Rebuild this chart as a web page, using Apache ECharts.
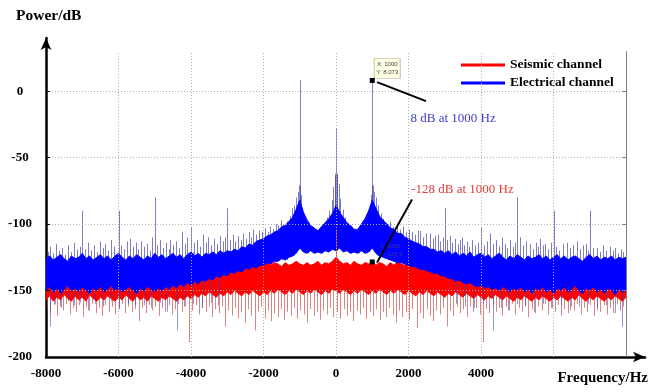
<!DOCTYPE html>
<html><head><meta charset="utf-8">
<script src="https://cdn.jsdelivr.net/npm/echarts@6/dist/echarts.min.js"></script>
<style>html,body{margin:0;padding:0;background:#fff}#c{width:650px;height:392px}</style>
</head><body><div id="c"></div>
<script>
// ---- data ----
const freq = [-8000,-7900,-7800,-7700,-7600,-7500,-7400,-7300,-7200,-7100,
-7000,-6900,-6800,-6700,-6600,-6500,-6400,-6300,-6200,-6100,
-6000,-5900,-5800,-5700,-5600,-5500,-5400,-5300,-5200,-5100,
-5000,-4900,-4800,-4700,-4600,-4500,-4400,-4300,-4200,-4100,
-4000,-3900,-3800,-3700,-3600,-3500,-3400,-3300,-3200,-3100,
-3000,-2900,-2800,-2700,-2600,-2500,-2400,-2300,-2200,-2100,
-2000,-1900,-1800,-1700,-1600,-1500,-1400,-1300,-1200,-1100,
-1000,-900,-800,-700,-600,-500,-400,-300,-200,-100,
0,
100,200,300,400,500,600,700,800,900,1000,
1100,1200,1300,1400,1500,1600,1700,1800,1900,2000,
2100,2200,2300,2400,2500,2600,2700,2800,2900,3000,
3100,3200,3300,3400,3500,3600,3700,3800,3900,4000,
4100,4200,4300,4400,4500,4600,4700,4800,4900,5000,
5100,5200,5300,5400,5500,5600,5700,5800,5900,6000,
6100,6200,6300,6400,6500,6600,6700,6800,6900,7000,
7100,7200,7300,7400,7500,7600,7700,7800,7900,8000];

// Electrical channel: dense band upper / lower edge (dB)
const blueTop = [-126,-124,-127,-125,-123,-126,-128,-124,-126,-125,
-122,-126,-124,-127,-125,-123,-126,-124,-127,-124,
-122,-125,-127,-124,-126,-123,-125,-127,-124,-126,
-122,-125,-123,-126,-124,-122,-125,-123,-126,-123,
-121,-124,-122,-125,-122,-123,-121,-123,-120,-122,
-120,-121,-119,-120,-117,-118,-115,-116,-113,-112,
-111,-109,-108,-106,-105,-102,-101,-98,-95,-89,
-82,-91,-97,-101,-103,-105,-102,-99,-96,-92,
-86,
-91,-95,-99,-101,-104,-104,-100,-96,-90,-82,
-88,-94,-97,-100,-103,-104,-107,-107,-110,-111,
-113,-114,-115,-117,-117,-119,-119,-121,-120,-122,
-120,-123,-121,-124,-122,-124,-121,-125,-123,-122,
-125,-123,-126,-124,-122,-125,-127,-124,-126,-123,
-125,-127,-124,-126,-125,-123,-126,-124,-127,-125,
-123,-126,-124,-127,-125,-124,-126,-128,-125,-123,
-126,-124,-127,-125,-126,-124,-127,-125,-126,-125];
const blueBot = [-150,-147,-151,-148,-152,-149,-146,-150,-148,-151,
-147,-150,-152,-148,-150,-147,-151,-149,-146,-150,
-148,-151,-149,-147,-150,-152,-148,-150,-147,-149,
-151,-148,-150,-147,-149,-146,-148,-145,-147,-144,
-146,-143,-145,-142,-143,-141,-142,-139,-140,-138,
-139,-136,-137,-135,-136,-133,-134,-132,-133,-131,
-131,-129,-130,-128,-128,-126,-127,-125,-124,-122,
-118,-121,-122,-120,-122,-121,-122,-120,-121,-119,
-120,
-118,-121,-120,-122,-121,-122,-120,-122,-121,-118,
-122,-124,-125,-126,-127,-128,-129,-129,-130,-131,
-132,-132,-134,-134,-135,-136,-137,-137,-139,-139,
-141,-141,-143,-142,-144,-145,-144,-146,-147,-146,
-148,-147,-149,-148,-150,-147,-149,-151,-148,-150,
-147,-151,-149,-152,-148,-150,-147,-151,-149,-152,
-148,-150,-147,-151,-149,-146,-150,-152,-148,-150,
-147,-151,-149,-152,-148,-150,-153,-149,-151,-150];

// Seismic channel: dense band upper / lower edge (dB)
const redTop = [-138,-136,-139,-137,-135,-138,-136,-139,-137,-135,
-138,-136,-139,-137,-135,-138,-136,-138,-135,-137,
-139,-136,-138,-135,-137,-139,-136,-138,-135,-137,
-136,-134,-137,-135,-133,-136,-134,-132,-135,-133,
-134,-131,-133,-131,-132,-130,-132,-130,-131,-129,
-131,-130,-132,-129,-131,-130,-128,-131,-129,-131,
-130,-128,-131,-129,-130,-132,-129,-131,-130,-128,
-130,-131,-129,-131,-130,-128,-131,-129,-130,-128,
-125,
-128,-130,-129,-131,-128,-130,-131,-129,-130,-128,
-131,-129,-130,-132,-129,-131,-128,-130,-131,-129,
-130,-132,-129,-131,-130,-128,-131,-130,-132,-129,
-131,-130,-132,-131,-133,-131,-134,-132,-134,-133,
-135,-134,-136,-134,-137,-135,-138,-136,-137,-135,
-138,-136,-139,-137,-135,-138,-136,-139,-137,-135,
-138,-136,-139,-137,-135,-138,-136,-138,-135,-137,
-139,-136,-138,-135,-137,-139,-136,-138,-137,-136];
const redBot = [-157,-154,-158,-155,-157,-153,-156,-158,-154,-157,
-155,-158,-153,-156,-158,-155,-157,-154,-156,-158,
-155,-157,-153,-156,-158,-154,-157,-155,-158,-154,
-156,-158,-155,-157,-154,-156,-158,-155,-157,-154,
-156,-153,-155,-152,-154,-151,-153,-155,-152,-154,
-151,-153,-150,-152,-154,-151,-153,-150,-152,-154,
-151,-153,-150,-152,-149,-151,-153,-150,-152,-149,
-151,-153,-150,-152,-149,-151,-153,-150,-152,-149,
-150,
-152,-149,-151,-153,-150,-152,-149,-151,-153,-150,
-152,-149,-151,-153,-150,-152,-149,-151,-153,-150,
-152,-154,-151,-153,-150,-152,-154,-151,-153,-155,
-152,-154,-151,-153,-155,-152,-154,-156,-153,-155,
-157,-154,-156,-153,-155,-157,-154,-156,-158,-155,
-157,-154,-156,-158,-155,-157,-154,-156,-158,-155,
-157,-154,-156,-158,-155,-157,-153,-156,-158,-155,
-157,-154,-156,-158,-155,-157,-154,-156,-158,-155];

// Electrical channel: isolated upward spikes [Hz, dB]
const blueUpSpikes = [[-7950,-121],[-7880,-117],[-7800,-122],[-7720,-115],[-7640,-120],[-7560,-118],[-7480,-123],[-7400,-116],[-7310,-121],[-7230,-114],[-7150,-119],[-7070,-117],[-7000,-90],[-6920,-119],[-6840,-114],[-6760,-120],[-6680,-116],[-6600,-121],[-6520,-113],[-6440,-118],[-6360,-115],[-6280,-120],[-6200,-112],[-6120,-117],[-6000,-90],[-5920,-116],[-5840,-119],[-5760,-113],[-5680,-111],[-5600,-117],[-5520,-114],[-5450,-119],[-5370,-113],[-5290,-117],[-5210,-115],[-5140,-120],[-5080,-110],[-5000,-80],[-4930,-116],[-4860,-112],[-4780,-118],[-4700,-114],[-4620,-119],[-4580,-112],[-4500,-116],[-4420,-113],[-4340,-118],[-4250,-106],[-4170,-115],[-4110,-110],[-4000,-102],[-3920,-114],[-3835,-112],[-3760,-117],[-3670,-108],[-3600,-114],[-3530,-110],[-3450,-116],[-3370,-111],[-3290,-115],[-3210,-109],[-3130,-113],[-3060,-110],[-3000,-88],[-2930,-112],[-2850,-108],[-2780,-113],[-2700,-109],[-2620,-112],[-2570,-107],[-2490,-111],[-2410,-106],[-2350,-110],[-2290,-104],[-2210,-108],[-2130,-105],[-2040,-106],[-1960,-103],[-1880,-106],[-1820,-102],[-1740,-104],[-1660,-100],[-1600,-101],[-1530,-97],[-1450,-100],[-1350,-98],[-1280,-94],[-1210,-88],[-1150,-86],[-1090,-80],[-1040,-76],[-1020,-71],[-1000,8.3],[-980,-71],[-960,-78],[-910,-95],[-850,-100],[-780,-103],[-700,-104],[-630,-106],[-560,-105],[-480,-104],[-400,-102],[-330,-99],[-250,-95],[-180,-90],[-110,-82],[-70,-72],[-40,-64],[-20,-62],[0,-28],[20,-63],[40,-62],[70,-70],[110,-81],[180,-89],[250,-95],[330,-100],[400,-103],[480,-104],[560,-106],[630,-105],[700,-103],[780,-102],[850,-99],[910,-94],[960,-78],[980,-71],[1000,8.073],[1020,-71],[1040,-76],[1090,-80],[1160,-86],[1230,-92],[1300,-96],[1410,-100],[1490,-98],[1570,-102],[1680,-101],[1760,-104],[1850,-102],[1930,-106],[2020,-104],[2100,-106],[2180,-108],[2250,-105],[2320,-105],[2400,-110],[2480,-107],[2590,-107],[2670,-111],[2740,-109],[2810,-108],[2880,-113],[2960,-110],[3000,-88],[3070,-112],[3145,-109],[3210,-114],[3283,-111],[3360,-115],[3420,-112],[3476,-110],[3540,-116],[3600,-113],[3680,-117],[3760,-112],[3840,-116],[3920,-114],[4000,-103],[4080,-116],[4160,-113],[4250,-107],[4330,-115],[4410,-112],[4500,-117],[4580,-110],[4660,-115],[4730,-118],[4800,-112],[4880,-117],[4950,-114],[5000,-80],[5080,-110],[5160,-116],[5240,-113],[5350,-115],[5430,-119],[5510,-114],[5570,-117],[5630,-111],[5700,-116],[5770,-115],[5850,-119],[5920,-114],[6000,-90],[6080,-117],[6160,-120],[6260,-115],[6370,-114],[6450,-118],[6530,-116],[6650,-113],[6730,-119],[6810,-116],[6900,-115],[6960,-120],[7000,-90],[7090,-118],[7200,-118],[7280,-121],[7360,-116],[7440,-120],[7560,-117],[7630,-120],[7700,-118],[7780,-122],[7850,-119],[7920,-121]];

// Electrical channel: isolated downward spikes [Hz, dB]
const blueDownSpikes = [[-7900,-177],[-7750,-160],[-7580,-163],[-7400,-158],[-7220,-161],[-7050,-159],[-6850,-165],[-6650,-160],[-6420,-162],[-6200,-158],[-5980,-163],[-5750,-160],[-5550,-164],[-5300,-161],[-5100,-163],[-4850,-159],[-4650,-166],[-4380,-180],[-4200,-162],[-3950,-160],[-3700,-163],[-3450,-159],[-3250,-161],[3300,-160],[3550,-162],[3800,-163],[4050,-160],[4330,-180],[4550,-163],[4750,-165],[5000,-160],[5200,-162],[5450,-166],[5700,-160],[5950,-163],[6200,-161],[6450,-165],[6700,-162],[6950,-160],[7200,-165],[7450,-161],[7700,-167],[7900,-177]];

// Seismic channel: isolated downward spikes [Hz, dB]
const redDownSpikes = [[-7960,-163],[-7880,-167],[-7790,-161],[-7700,-169],[-7620,-162],[-7530,-165],[-7440,-160],[-7350,-168],[-7260,-163],[-7170,-166],[-7080,-161],[-6990,-170],[-6900,-162],[-6810,-165],[-6720,-160],[-6630,-167],[-6540,-163],[-6450,-169],[-6360,-161],[-6270,-166],[-6180,-162],[-6090,-168],[-6000,-164],[-5910,-160],[-5820,-167],[-5730,-162],[-5640,-166],[-5540,-161],[-5430,-173],[-5340,-163],[-5250,-167],[-5160,-161],[-5070,-165],[-4980,-162],[-4890,-169],[-4800,-163],[-4710,-166],[-4620,-161],[-4530,-168],[-4440,-164],[-4350,-160],[-4260,-166],[-4170,-162],[-4050,-189],[-3960,-165],[-3870,-161],[-3780,-168],[-3690,-163],[-3600,-166],[-3510,-162],[-3420,-170],[-3330,-164],[-3240,-167],[-3150,-162],[-3060,-177],[-2970,-165],[-2880,-169],[-2790,-163],[-2700,-171],[-2610,-166],[-2520,-174],[-2430,-164],[-2340,-169],[-2240,-180],[-2150,-166],[-2060,-162],[-1970,-171],[-1880,-165],[-1790,-173],[-1700,-167],[-1610,-170],[-1520,-164],[-1430,-172],[-1340,-166],[-1250,-169],[-1160,-163],[-1070,-171],[-980,-165],[-890,-168],[-800,-174],[-710,-164],[-620,-169],[-530,-166],[-440,-172],[-350,-165],[-260,-168],[-170,-163],[-80,-170],[40,-166],[120,-171],[210,-164],[300,-169],[390,-166],[480,-173],[570,-165],[660,-168],[750,-163],[840,-171],[930,-166],[1020,-169],[1110,-164],[1200,-172],[1290,-166],[1380,-170],[1470,-163],[1560,-168],[1650,-174],[1740,-165],[1830,-170],[1920,-166],[2010,-172],[2100,-164],[2230,-178],[2320,-167],[2410,-171],[2500,-164],[2590,-169],[2680,-173],[2770,-165],[2860,-168],[2950,-163],[3060,-177],[3150,-165],[3240,-169],[3330,-162],[3420,-167],[3510,-164],[3600,-170],[3690,-162],[3780,-166],[3870,-163],[3960,-168],[4050,-189],[4140,-164],[4230,-167],[4320,-161],[4410,-166],[4500,-163],[4590,-169],[4680,-162],[4770,-165],[4860,-160],[4950,-168],[5040,-163],[5130,-166],[5220,-161],[5310,-170],[5400,-164],[5490,-167],[5580,-162],[5670,-165],[5760,-160],[5850,-168],[5940,-163],[6030,-166],[6120,-161],[6210,-169],[6300,-164],[6390,-167],[6480,-162],[6570,-165],[6660,-160],[6750,-168],[6840,-163],[6930,-166],[7020,-161],[7110,-169],[7200,-163],[7290,-166],[7380,-161],[7470,-168],[7560,-163],[7650,-167],[7740,-160],[7830,-165],[7920,-162]];
// Seismic channel: central upward spike [Hz, dB]
const redUpSpikes = [[0,-104]];

const seriesNames = ['Seismic channel', 'Electrical channel'];
const xTickLabels = [-8000, -6000, -4000, -2000, 0, 2000, 4000];
const yTickLabels = [0, -50, -100, -150, -200];
const xGridLines = [-6000, -4000, -2000, 0, 2000, 4000, 6000];
const yGridLines = [0, -50, -100, -150];
const marker1 = [1000, 8.073];
const marker2 = [1000, -128.5];

// ---- chart ----
const FONT = 'Liberation Serif';
const plotTop = 30, plotRight = 8000, plotLeft = -8000, plotBottom = -200;
function nearest(arr, f) {
  let best = 0;
  for (let i = 1; i < freq.length; i++) if (Math.abs(freq[i] - f) < Math.abs(freq[best] - f)) best = i;
  return arr[best];
}
function spikeSeries(list, baseArr, color, z) {
  return {
    type: 'custom', silent: true, clip: true, z: z,
    data: list.map(([f, v]) => [f, baseArr ? nearest(baseArr, f) : v, v]),
    encode: { x: 0, y: [1, 2] },
    renderItem: (params, api) => {
      const a = api.coord([api.value(0), api.value(1)]);
      const b = api.coord([api.value(0), api.value(2)]);
      const x = Math.round(a[0]) + 0.5;
      return { type: 'line', shape: { x1: x, y1: a[1], x2: x, y2: b[1] }, style: { stroke: color, lineWidth: 1 } };
    }
  };
}
// band between an upper and a lower edge, drawn through the axes' scales
function bandSeries(name, top, bot, color, z) {
  return {
    type: 'custom', name: name, silent: true, clip: true, z: z,
    itemStyle: { color: color },
    data: freq.map((f, i) => [f, top[i], bot[i]]),
    encode: { x: 0, y: [1, 2] },
    renderItem: (params, api) => {
      if (params.dataIndex !== 0) return null;
      const pts = [];
      for (let i = 0; i < freq.length; i++) pts.push(api.coord([freq[i], top[i]]));
      for (let i = freq.length - 1; i >= 0; i--) pts.push(api.coord([freq[i], bot[i]]));
      return { type: 'polygon', shape: { points: pts }, style: { fill: color, stroke: color, lineWidth: 1, lineJoin: 'miter' } };
    }
  };
}
const seg = (a, b, style) => [{ coord: a, lineStyle: style }, { coord: b }];
const dotted = { color: '#b0b0b0', width: 1, type: [1, 2] };
const boxLine = { color: '#808080', width: 1, type: 'solid' };
const axisTickLine = { color: '#000', width: 1, type: 'solid' };
const leader = { color: '#000', width: 2, type: 'solid' };

const chart = echarts.init(document.getElementById('c'), null, { renderer: 'canvas' });
chart.setOption({
  animation: false,
  backgroundColor: '#fff',
  grid: { left: 46, right: 5, top: 38, bottom: 35 },
  xAxis: {
    type: 'value', min: -8000, max: 8524, interval: 2000,
    axisLine: { show: true, onZero: false, symbol: ['none', 'arrow'], symbolSize: [8, 12], lineStyle: { color: '#000', width: 2.5 } },
    axisTick: { show: false }, splitLine: { show: false },
    axisLabel: { margin: 10, fontSize: 13, fontWeight: 'bold', fontFamily: FONT, color: '#000',
      showMaxLabel: false, formatter: v => xTickLabels.includes(v) ? String(v) : '' }
  },
  yAxis: {
    type: 'value', min: -200, max: 40, interval: 50,
    axisLine: { show: true, onZero: false, symbol: ['none', 'arrow'], symbolSize: [8, 12], lineStyle: { color: '#000', width: 2.5 } },
    axisTick: { show: false }, splitLine: { show: false },
    axisLabel: { margin: 26, align: 'center', fontSize: 13, fontWeight: 'bold', fontFamily: FONT, color: '#000',
      showMaxLabel: false, formatter: v => yTickLabels.includes(v) ? String(v) : '' }
  },
  legend: {
    data: seriesNames, orient: 'vertical', left: 461, top: 58, padding: 0, itemGap: 4,
    icon: 'rect', itemWidth: 44, itemHeight: 3, selectedMode: false,
    textStyle: { fontFamily: FONT, fontWeight: 'bold', fontSize: 13.5, color: '#000', lineHeight: 14 }
  },
  graphic: [
    { type: 'text', left: 16, top: 8, style: { text: 'Power/dB', font: 'bold 15.5px "Liberation Serif"', fill: '#000' } },
    { type: 'text', right: 2, top: 371, style: { text: 'Frequency/Hz', font: 'bold 15px "Liberation Serif"', fill: '#000' } }
  ],
  series: [
    { type: 'line', data: [], z: 1, silent: true,
      markLine: { silent: true, symbol: 'none', label: { show: false }, animation: false,
        data: [
          ...xGridLines.map(x => seg([x, plotBottom], [x, plotTop], dotted)),
          ...yGridLines.map(y => seg([plotLeft, y], [plotRight, y], dotted)),
          seg([plotRight, plotBottom], [plotRight, plotTop], boxLine),
          ...yGridLines.map(y => seg([plotRight - 110, y], [plotRight, y], boxLine)),
          ...yGridLines.map(y => seg([plotLeft, y], [plotLeft + 110, y], axisTickLine))
        ] } },
    spikeSeries(redDownSpikes, redTop, 'rgba(205,45,45,0.6)', 2),
    bandSeries(seriesNames[0], redTop, redBot, '#ff0000', 2),
    spikeSeries(blueDownSpikes, blueTop, 'rgba(60,60,190,0.55)', 2),
    spikeSeries(blueUpSpikes, blueBot, 'rgba(70,70,175,0.7)', 2),
    bandSeries(seriesNames[1], blueTop, blueBot, '#0000ff', 2),
    spikeSeries(redUpSpikes, redTop, 'rgba(220,40,40,0.85)', 3),
    { type: 'line', data: [], z: 10, silent: true,
      markLine: { silent: true, symbol: 'none', label: { show: false }, animation: false,
        data: [ seg([1131, 6.8], [2483, -7.5], leader), seg([1131, -129], [2097, -81.5], leader) ] },
      markPoint: { silent: true, animation: false,
        data: [
          { coord: marker1, symbol: 'rect', symbolSize: [26, 20], symbolOffset: [15, -12],
            itemStyle: { color: '#ffffe6', borderColor: '#c8c8a8', borderWidth: 1 },
            label: { show: true, position: 'inside', formatter: 'X: 1000\nY: 8.073', fontSize: 6, lineHeight: 8, color: '#444', fontFamily: 'Liberation Sans' } },
          { coord: marker1, symbol: 'rect', symbolSize: 5, itemStyle: { color: '#000' }, label: { show: false } },
          { coord: marker2, symbol: 'rect', symbolSize: 1, symbolOffset: [18, -12], itemStyle: { color: 'rgba(0,0,0,0)' },
            label: { show: true, position: 'inside', formatter: 'X: 1000\nY: -128.5', fontSize: 6, lineHeight: 8, color: 'rgba(90,90,90,0.6)', fontFamily: 'Liberation Sans' } },
          { coord: marker2, symbol: 'rect', symbolSize: 5, itemStyle: { color: '#000' }, label: { show: false } },
          { coord: [2041, -20.4], symbol: 'rect', symbolSize: 1, itemStyle: { color: 'rgba(0,0,0,0)' },
            label: { show: true, position: 'right', distance: 0, formatter: '8 dB at 1000 Hz', fontSize: 13, fontFamily: FONT, color: '#3c3cc8' } },
          { coord: [2060, -74], symbol: 'rect', symbolSize: 1, itemStyle: { color: 'rgba(0,0,0,0)' },
            label: { show: true, position: 'right', distance: 0, formatter: '-128 dB at 1000 Hz', fontSize: 13, fontFamily: FONT, color: '#e23a3a' } }
        ] } }
  ]
});
</script></body></html>
